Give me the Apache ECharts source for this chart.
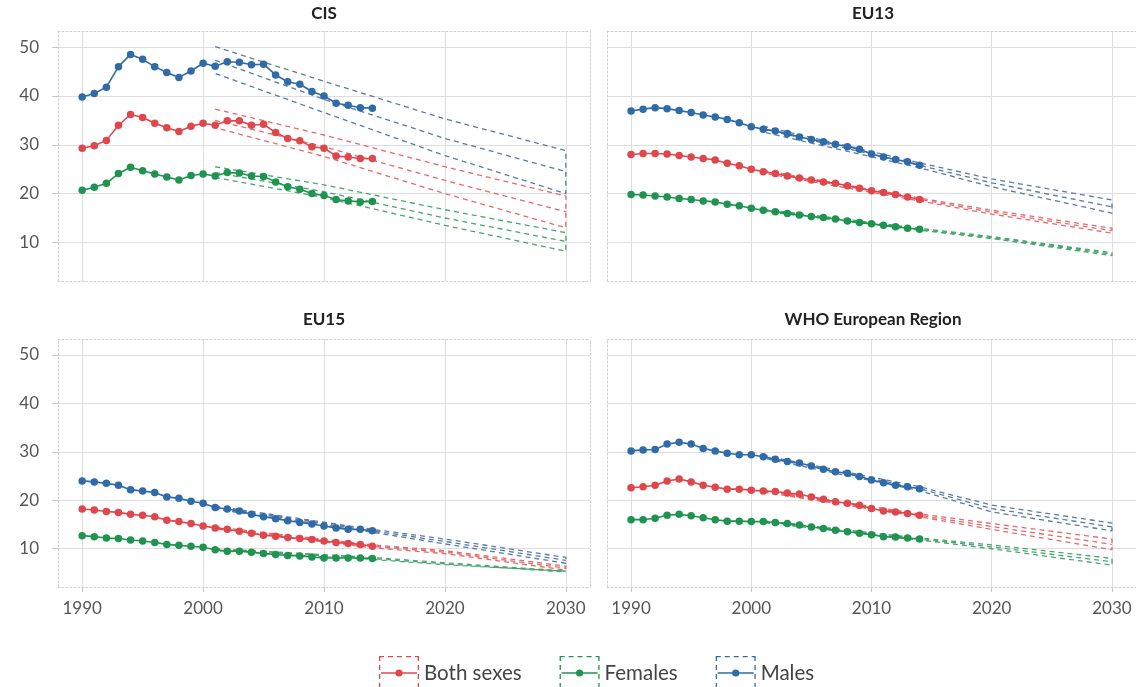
<!DOCTYPE html>
<html>
<head>
<meta charset="utf-8">
<script src="https://cdn.jsdelivr.net/npm/echarts@6/dist/echarts.min.js"></script>
<style>
  html, body { margin: 0; padding: 0; background: #ffffff; }
  #chart { width: 1136px; height: 687px; }
</style>
</head>
<body>
<div id="chart"></div>
<script>
// ---- data -------------------------------------------------------------
const years = [1990, 1991, 1992, 1993, 1994, 1995, 1996, 1997, 1998, 1999, 2000, 2001, 2002,
               2003, 2004, 2005, 2006, 2007, 2008, 2009, 2010, 2011, 2012, 2013, 2014];
const xTicks = [1990, 2000, 2010, 2020, 2030];
const yTicks = [10, 20, 30, 40, 50];
const panelTitles = ['CIS', 'EU13', 'EU15', 'WHO European Region'];
const sexes = ['Both sexes', 'Females', 'Males'];

// observed rates, 1990-2014
const cisBoth    = [29.3, 29.8, 30.9, 34.0, 36.2, 35.6, 34.4, 33.5, 32.7, 33.8, 34.4, 34.0, 34.9, 34.9, 34.0, 34.2, 32.5, 31.3, 30.8, 29.6, 29.3, 27.7, 27.5, 27.2, 27.2];
const cisFemales = [20.7, 21.3, 22.1, 24.1, 25.4, 24.7, 24.0, 23.4, 22.8, 23.7, 24.0, 23.6, 24.3, 24.2, 23.6, 23.5, 22.4, 21.4, 20.9, 20.0, 19.6, 18.8, 18.5, 18.3, 18.4];
const cisMales   = [39.8, 40.5, 41.8, 46.0, 48.5, 47.5, 46.0, 44.8, 43.8, 45.1, 46.7, 46.1, 47.0, 46.9, 46.4, 46.5, 44.3, 42.9, 42.4, 40.9, 40.0, 38.5, 38.1, 37.6, 37.5];

const eu13Both    = [28.0, 28.2, 28.2, 28.1, 27.8, 27.5, 27.2, 26.9, 26.2, 25.7, 25.0, 24.5, 24.1, 23.6, 23.2, 22.8, 22.4, 22.1, 21.6, 21.1, 20.6, 20.2, 19.8, 19.3, 18.8];
const eu13Females = [19.8, 19.7, 19.5, 19.3, 19.0, 18.8, 18.5, 18.3, 17.8, 17.5, 17.0, 16.6, 16.3, 15.9, 15.6, 15.3, 15.1, 14.8, 14.4, 14.1, 13.8, 13.5, 13.2, 12.9, 12.7];
const eu13Males   = [36.9, 37.3, 37.6, 37.4, 37.0, 36.6, 36.1, 35.7, 35.2, 34.5, 33.7, 33.2, 32.8, 32.3, 31.6, 31.1, 30.6, 30.1, 29.6, 29.1, 28.1, 27.5, 27.0, 26.5, 25.8];

const eu15Both    = [18.2, 18.0, 17.7, 17.5, 17.1, 16.9, 16.6, 15.9, 15.6, 15.2, 14.7, 14.3, 14.0, 13.6, 13.2, 12.8, 12.6, 12.3, 12.1, 11.9, 11.6, 11.3, 11.1, 10.9, 10.5];
const eu15Females = [12.7, 12.5, 12.2, 12.1, 11.8, 11.6, 11.3, 10.9, 10.7, 10.5, 10.3, 9.8, 9.5, 9.5, 9.3, 9.0, 8.8, 8.6, 8.5, 8.3, 8.1, 8.1, 8.1, 8.1, 8.0];
const eu15Males   = [24.0, 23.8, 23.5, 23.1, 22.2, 21.9, 21.6, 20.7, 20.4, 19.8, 19.4, 18.5, 18.2, 17.8, 17.1, 16.6, 16.2, 15.8, 15.4, 15.1, 14.7, 14.3, 14.0, 14.0, 13.7];

const whoBoth    = [22.6, 22.8, 23.1, 24.0, 24.4, 23.8, 23.1, 22.7, 22.3, 22.3, 22.1, 21.9, 21.8, 21.5, 21.3, 20.7, 20.2, 19.7, 19.4, 19.0, 18.3, 17.8, 17.6, 17.3, 16.9];
const whoFemales = [16.0, 16.0, 16.3, 16.9, 17.1, 16.8, 16.4, 16.0, 15.7, 15.7, 15.6, 15.6, 15.4, 15.2, 14.9, 14.5, 14.2, 13.8, 13.5, 13.2, 12.9, 12.5, 12.4, 12.2, 12.0];
const whoMales   = [30.2, 30.4, 30.5, 31.6, 32.0, 31.6, 30.7, 30.2, 29.7, 29.4, 29.4, 29.0, 28.5, 28.0, 27.7, 27.1, 26.4, 25.9, 25.6, 24.9, 24.2, 23.6, 23.1, 22.8, 22.4];

// projections to 2030: rows are upper bound, central estimate, lower bound
const cisProjYears = [2001, 2010, 2020, 2030];
const cisBothProj    = [[37.3, 32.0, 25.5, 19.5], [35.0, 29.6, 22.7, 16.3], [33.5, 27.6, 20.0, 13.0]];
const cisFemalesProj = [[25.5, 21.8, 16.7, 12.0], [24.3, 20.4, 15.0, 10.2], [23.3, 19.2, 13.5, 8.2]];
const cisMalesProj   = [[50.1, 43.0, 35.3, 28.8], [47.3, 39.3, 31.3, 24.5], [44.6, 36.6, 27.8, 20.0]];

const projYears = [2001, 2014, 2020, 2030];
const eu13BothProj    = [[24.8, 19.1, 16.6, 12.9], [24.5, 18.8, 16.2, 12.4], [24.2, 18.5, 15.8, 11.9]];
const eu13FemalesProj = [[16.8, 12.9, 11.2, 7.9], [16.6, 12.7, 11.0, 7.6], [16.4, 12.5, 10.8, 7.3]];
const eu13MalesProj   = [[33.8, 26.3, 23.0, 18.7], [33.2, 25.8, 22.2, 17.3], [32.6, 25.3, 21.4, 16.0]];

const eu15BothProj    = [[14.5, 10.8, 9.6, 6.4], [14.3, 10.5, 9.3, 6.0], [14.1, 10.2, 9.0, 5.6]];
const eu15FemalesProj = [[10.0, 8.2, 7.1, 5.4], [9.8, 8.0, 6.9, 5.2], [9.6, 7.8, 6.7, 5.0]];
const eu15MalesProj   = [[18.8, 14.0, 12.0, 8.2], [18.5, 13.7, 11.5, 7.6], [18.2, 13.4, 11.0, 7.0]];

const whoBothProj    = [[22.1, 17.2, 15.2, 12.0], [21.9, 16.9, 14.6, 10.9], [21.7, 16.6, 14.0, 9.8]];
const whoFemalesProj = [[15.8, 12.2, 10.8, 8.0], [15.6, 12.0, 10.4, 7.3], [15.4, 11.8, 10.0, 6.6]];
const whoMalesProj   = [[29.3, 22.8, 19.0, 15.3], [29.0, 22.4, 18.3, 14.5], [28.7, 22.0, 17.6, 13.7]];

// ---- assembly ---------------------------------------------------------
const panels = [
  { observed: [cisBoth, cisFemales, cisMales], proj: [cisBothProj, cisFemalesProj, cisMalesProj], projYears: cisProjYears },
  { observed: [eu13Both, eu13Females, eu13Males], proj: [eu13BothProj, eu13FemalesProj, eu13MalesProj], projYears: projYears },
  { observed: [eu15Both, eu15Females, eu15Males], proj: [eu15BothProj, eu15FemalesProj, eu15MalesProj], projYears: projYears },
  { observed: [whoBoth, whoFemales, whoMales], proj: [whoBothProj, whoFemalesProj, whoMalesProj], projYears: projYears }
];

const lineColors = ['#E0474C', '#1E9450', '#2F6BA8'];
const dashColors = ['rgba(224,80,84,0.85)', 'rgba(40,150,85,0.85)', 'rgba(70,110,155,0.9)'];

const FONT = 'Lato, "Open Sans", sans-serif';
const gridBoxes = [
  { left: 58,  top: 31,  width: 532, height: 250 },
  { left: 607, top: 31,  width: 532, height: 250 },
  { left: 58,  top: 339, width: 532, height: 248 },
  { left: 607, top: 339, width: 532, height: 248 }
];
const titleCenters = [[324, 14], [873, 14], [324, 320], [873, 320]];

const borderLine = { show: true, lineStyle: { color: '#cfcfcf', width: 1, type: [2, 2] } };
const gridLine = { show: true, lineStyle: { color: '#dedede', width: 1 } };

const grid = [], xAxis = [], yAxis = [], series = [];

panels.forEach((p, i) => {
  grid.push(Object.assign({ containLabel: false }, gridBoxes[i]));
  const isBottom = i >= 2, isLeft = i % 2 === 0;

  xAxis.push({
    type: 'value', gridIndex: i, min: 1988, max: 2032, position: 'bottom',
    axisLine: borderLine,
    axisTick: { show: isBottom, customValues: xTicks, length: 5, lineStyle: { color: '#c8c8c8' } },
    axisLabel: { show: isBottom, customValues: xTicks, margin: 13, color: '#555', fontSize: 17,
                 fontFamily: FONT, formatter: (v) => String(v) },
    splitLine: gridLine
  });
  xAxis.push({
    type: 'value', gridIndex: i, min: 1988, max: 2032, position: 'top',
    axisLine: borderLine, axisTick: { show: false }, axisLabel: { show: false }, splitLine: { show: false }
  });
  yAxis.push({
    type: 'value', gridIndex: i, min: 2.1, max: 53.3, position: 'left',
    axisLine: borderLine,
    axisTick: { show: isLeft, customValues: yTicks, length: 6, lineStyle: { color: '#c8c8c8' } },
    axisLabel: { show: isLeft, customValues: yTicks, margin: 19, color: '#555', fontSize: 17,
                 fontFamily: FONT, formatter: (v) => String(v) },
    splitLine: gridLine
  });
  yAxis.push({
    type: 'value', gridIndex: i, min: 2.1, max: 53.3, position: 'right',
    axisLine: borderLine, axisTick: { show: false }, axisLabel: { show: false }, splitLine: { show: false }
  });

  const xi = 2 * i, yi = 2 * i;

  // projection bands (dashed outline) and central projection
  p.proj.forEach((rows, s) => {
    const [up, mid, lo] = rows;
    const outline = [];
    p.projYears.forEach((yr, k) => outline.push([yr, up[k]]));
    for (let k = p.projYears.length - 1; k >= 0; k--) outline.push([p.projYears[k], lo[k]]);
    outline.push('-');
    p.projYears.forEach((yr, k) => outline.push([yr, mid[k]]));
    series.push({
      type: 'line', name: sexes[s] + ' projection', xAxisIndex: xi, yAxisIndex: yi,
      data: outline, showSymbol: false, symbol: 'none', silent: true, connectNulls: false,
      lineStyle: { color: dashColors[s], width: 1.3, type: [5, 4] },
      z: 2, animation: false
    });
  });

  // observed series
  p.observed.forEach((vals, s) => {
    series.push({
      type: 'line', name: sexes[s], xAxisIndex: xi, yAxisIndex: yi,
      data: years.map((yr, k) => [yr, vals[k]]),
      symbol: 'circle', symbolSize: 7.5, showSymbol: true,
      itemStyle: { color: lineColors[s] },
      lineStyle: { color: lineColors[s], width: 1.6 },
      z: 3, animation: false
    });
  });
});

// legend key: dashed box around a line with a point
function legendKeyPath() {
  const W = 40, H = 34, t = 1.3, dash = 5, gap = 4;
  const rect = (x1, y1, x2, y2) => `M${x1} ${y1}H${x2}V${y2}H${x1}Z`;
  const parts = [];
  for (let x = 0; x < W; x += dash + gap) {
    const x2 = Math.min(x + dash, W);
    parts.push(rect(x, 0, x2, t), rect(x, H - t, x2, H));
  }
  for (let y = 0; y < H; y += dash + gap) {
    const y2 = Math.min(y + dash, H);
    parts.push(rect(0, y, t, y2), rect(W - t, y, W, y2));
  }
  parts.push(rect(2, H / 2 - 0.8, W - 2, H / 2 + 0.8));
  const cx = W / 2, cy = H / 2, r = 3.6;
  parts.push(`M${cx - r} ${cy}A${r} ${r} 0 1 1 ${cx + r} ${cy}A${r} ${r} 0 1 1 ${cx - r} ${cy}Z`);
  return 'path://' + parts.join('');
}
const keyIcon = legendKeyPath();

const graphic = panelTitles.map((t, i) => ({
  type: 'text', x: titleCenters[i][0], y: titleCenters[i][1], silent: true,
  style: { text: t, fill: '#222', font: 'bold 17px ' + FONT, align: 'center', verticalAlign: 'middle' }
}));

const option = {
  backgroundColor: '#ffffff',
  animation: false,
  grid, xAxis, yAxis, series, graphic,
  legend: {
    data: sexes.map((s, k) => ({ name: s, icon: keyIcon, itemStyle: { color: lineColors[k] } })),
    left: 374, top: 651, itemWidth: 40, itemHeight: 34, itemGap: 38,
    textStyle: { fontSize: 20.5, color: '#444', fontFamily: FONT },
    selectedMode: false
  }
};

const chart = echarts.init(document.getElementById('chart'), null, { renderer: 'canvas' });
chart.setOption(option);
</script>
</body>
</html>
